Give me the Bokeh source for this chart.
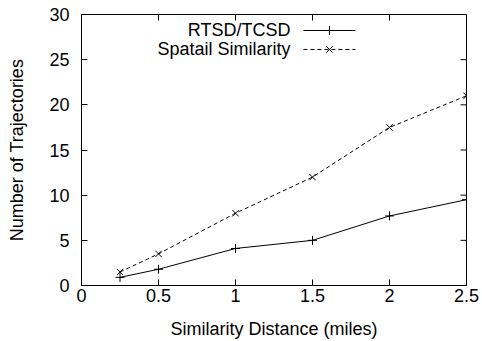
from bokeh.plotting import figure
from bokeh.models import Range1d, FixedTicker
from bokeh.core.properties import value
from bokeh.embed import file_html
from bokeh.resources import INLINE

distance = [0.25, 0.5, 1.0, 1.5, 2.0, 2.5]
rtsd_tcsd = [0.9, 1.8, 4.1, 5.0, 7.7, 9.5]
spatial = [1.5, 3.5, 8.0, 12.0, 17.5, 21.0]
x_ticks = [0, 0.5, 1, 1.5, 2, 2.5]
x_tick_labels = ["0", "0.5", "1", "1.5", "2", "2.5"]
y_ticks = [0, 5, 10, 15, 20, 25, 30]
series_names = ["RTSD/TCSD", "Spatail Similarity"]
x_title = "Similarity Distance (miles)"
y_title = "Number of Trajectories"

FONT = "Liberation Sans"
FS = "18px"
X_MIN, X_MAX, Y_MIN, Y_MAX = 0, 2.5, 0, 30

p = figure(width=482, height=341, output_backend="svg", toolbar_location=None,
           x_range=Range1d(X_MIN, X_MAX), y_range=Range1d(Y_MIN, Y_MAX),
           min_border_left=81, min_border_right=16, min_border_top=14, min_border_bottom=56)
p.xgrid.visible = False
p.ygrid.visible = False
p.outline_line_color = "black"
p.outline_line_width = 1
p.background_fill_color = "white"
p.border_fill_color = "white"

for ax in (p.xaxis[0], p.yaxis[0]):
    ax.axis_line_color = "black"
    ax.major_tick_in = 6
    ax.major_tick_out = 0
    ax.minor_tick_line_color = None
    ax.major_tick_line_color = "black"
    ax.major_label_text_font = FONT
    ax.major_label_text_font_size = FS
    ax.major_label_text_color = "black"
    ax.axis_label_text_font = FONT
    ax.axis_label_text_font_size = FS
    ax.axis_label_text_font_style = "normal"
    ax.axis_label_text_color = "black"

p.xaxis.ticker = FixedTicker(ticks=x_ticks)
p.xaxis.major_label_overrides = {t: l for t, l in zip(x_ticks, x_tick_labels)}
p.yaxis.ticker = FixedTicker(ticks=y_ticks)
p.xaxis.axis_label = x_title
p.yaxis.axis_label = y_title
p.xaxis.major_label_standoff = 3
p.xaxis.axis_label_standoff = 14
p.yaxis.major_label_standoff = 12
p.yaxis.axis_label_standoff = 19

# mirrored inward ticks on top and right edges (gnuplot style)
tick_len_y = 6 / 271 * (Y_MAX - Y_MIN)
tick_len_x = 6 / 385 * (X_MAX - X_MIN)
p.segment(x0=x_ticks, y0=[Y_MAX] * len(x_ticks), x1=x_ticks, y1=[Y_MAX - tick_len_y] * len(x_ticks),
          line_color="black", line_width=1)
p.segment(x0=[X_MAX] * len(y_ticks), y0=y_ticks, x1=[X_MAX - tick_len_x] * len(y_ticks), y1=y_ticks,
          line_color="black", line_width=1)

# series
p.line(distance, rtsd_tcsd, line_color="black", line_width=1)
p.scatter(distance, rtsd_tcsd, marker="cross", size=9, line_color="black", line_width=1)
p.line(distance, spatial, line_color="black", line_width=1, line_dash="4 3")
p.scatter(distance, spatial, marker="x", size=9, line_color="black", line_width=1)

# legend (gnuplot style: text on the left, sample on the right)
leg_text_x = 1.357
leg_line_x0, leg_line_x1 = 1.441, 1.779
leg_y = [28.23, 26.13]
markers = ["cross", "x"]
dashes = ["solid", "4 3"]
for name, yy, mk, dsh in zip(series_names, leg_y, markers, dashes):
    p.text(x=[leg_text_x], y=[yy], text=[name], text_align="right", text_baseline="middle",
           text_font=value(FONT), text_font_size=FS, text_color="black")
    p.line([leg_line_x0, leg_line_x1], [yy, yy], line_color="black", line_width=1, line_dash=dsh)
    p.scatter([(leg_line_x0 + leg_line_x1) / 2], [yy], marker=mk, size=9,
              line_color="black", line_width=1)

open("out.html", "w").write(file_html(p, INLINE))
